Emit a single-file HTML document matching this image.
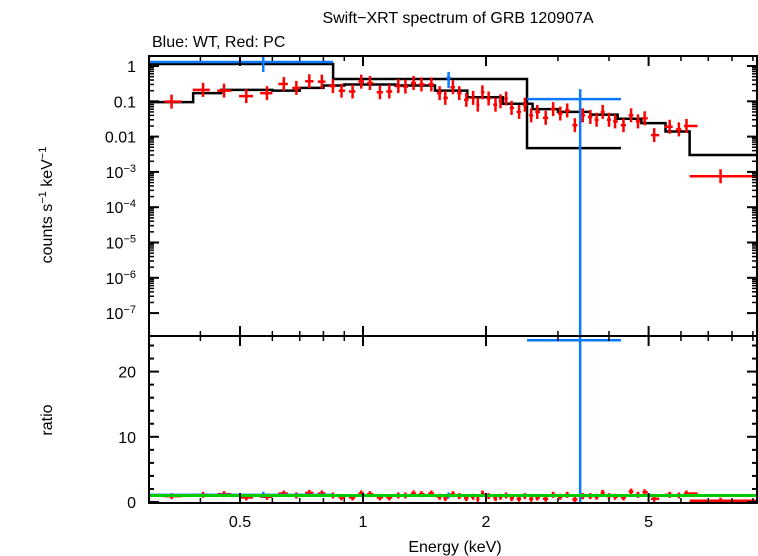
<!DOCTYPE html>
<html><head><meta charset="utf-8"><style>
body{margin:0;background:#fff;}
svg{display:block;font-family:"Liberation Sans",sans-serif;}
</style></head><body>
<svg id="c" width="758" height="556" viewBox="0 0 758 556">
<text x="458" y="23" font-size="16" text-anchor="middle">Swift−XRT spectrum of GRB 120907A</text>
<text x="152" y="47" font-size="16">Blue: WT, Red: PC</text>
<text transform="translate(52,205) rotate(-90)" font-size="16" text-anchor="middle">counts s<tspan font-size="11" dy="-6">−1</tspan><tspan dy="6"> keV</tspan><tspan font-size="11" dy="-6">−1</tspan></text>
<text transform="translate(52,420) rotate(-90)" font-size="16" text-anchor="middle">ratio</text>
<text x="455" y="552" font-size="16" text-anchor="middle">Energy (keV)</text>
<g id="g"></g>
</svg>
<script>
// ---- data ----
const redE = [0.340,0.406,0.457,0.518,0.582,0.64,0.687,0.739,0.793,0.844,0.886,0.943,0.99,1.04,1.10,1.16,1.22,1.27,1.33,1.39,1.47,1.54,1.59,1.66,1.72,1.79,1.86,1.91,1.96,2.03,2.11,2.17,2.24,2.31,2.41,2.49,2.58,2.67,2.80,2.92,3.04,3.16,3.30,3.45,3.60,3.73,3.86,4.00,4.14,4.34,4.53,4.71,4.89,5.16,5.63,5.93,6.19,7.5];
const redV = [0.098,0.21,0.2,0.14,0.17,0.31,0.24,0.37,0.36,0.27,0.2,0.19,0.36,0.33,0.18,0.19,0.27,0.26,0.33,0.3,0.3,0.17,0.125,0.25,0.17,0.11,0.125,0.08,0.18,0.12,0.08,0.1,0.12,0.065,0.05,0.08,0.04,0.05,0.034,0.06,0.045,0.055,0.021,0.04,0.036,0.03,0.05,0.03,0.027,0.021,0.04,0.027,0.033,0.011,0.019,0.016,0.02,0.00075];
const redR = [0.9,1.1,1.2,0.7,0.8,1.3,1.0,1.4,1.3,1.0,0.7,0.7,1.3,1.2,0.7,0.7,1.0,1.0,1.3,1.2,1.3,0.8,0.6,1.2,0.9,0.6,0.8,0.5,1.3,0.9,0.6,0.8,1.0,0.6,0.5,0.9,0.5,0.7,0.5,1.1,0.8,1.1,0.4,0.9,0.9,0.8,1.4,0.9,0.8,0.7,1.6,1.1,1.5,0.5,1.1,1.0,1.3,0.2];
const blueE = [0.57,1.62,3.4];
const blueLo = [0.30,1.60,2.52];
const blueHi = [0.845,1.64,4.28];
const blueV = [1.3,0.46,0.115];
const blueR = [1.1,1.0,24.8];
const redModelEdges = [0.3,0.384,0.45,0.6,0.7,0.8,0.9,1.2,1.5,1.8,2.2,2.6,3.0,3.6,4.2,4.8,5.5,6.3,9.2];
const redModelV = [0.095,0.17,0.21,0.2,0.24,0.28,0.3,0.28,0.2,0.13,0.085,0.06,0.05,0.042,0.032,0.024,0.014,0.003];
const blueModelEdges = [0.3,0.845,2.52,4.28];
const blueModelV = [1.14,0.43,0.0047];
const topTicks = ["1","0.1","0.01","10^-3","10^-4","10^-5","10^-6","10^-7"];
const ratioTicks = [0,10,20];
const xTicks = [0.5,1,2,5];
// ---- axes ----
const L=149,R=757,T=56,M=336,B=503;
const X=e=>363+408.6*Math.log10(e);
const Y=v=>66-35.3*Math.log10(v);
const YR=r=>502-6.52*r;
const g=document.getElementById('g');
const NS='http://www.w3.org/2000/svg';
function mk(t,a,p){const e=document.createElementNS(NS,t);for(const k in a)e.setAttribute(k,a[k]);(p||g).appendChild(e);return e;}
function line(x1,y1,x2,y2,c,w,p){return mk('line',{x1,y1,x2,y2,stroke:c,'stroke-width':w},p);}
const cl=x=>Math.max(L,Math.min(R,x));
function steps(edges,vals,yf,c,name){let d='';for(let i=0;i<vals.length;i++){const y=yf(vals[i]);d+=(i?'L':'M')+cl(X(edges[i]))+' '+y+'L'+cl(X(edges[i+1]))+' '+y;}
const p=mk('path',{d,fill:'none',stroke:c,'stroke-width':2.5});

}
steps(blueModelEdges,blueModelV,Y,'#000','blue-model-line');
steps(redModelEdges,redModelV,Y,'#000','red-model-line');
function halfW(i,side){const n=redE.length;if(i===n-1)return side<0?6.3:9.2;
 const e=redE[i];const o=side<0?(i?redE[i-1]:0.3):redE[i+1];
 return Math.pow(10,Math.log10(e)+0.5*(Math.log10(Math.sqrt(o*e))-Math.log10(e))*1.3);}
for(let i=0;i<redE.length;i++){
 const x=X(redE[i]),x1=cl(X(halfW(i,-1))),x2=cl(X(halfW(i,1)));
 const y=Y(redV[i]),yr=YR(redR[i]);
 const gg=mk('g',{});
 
 
 line(x1,y,x2,y,'#f00',2.5,gg);
 line(x,y-7,x,y+7,'#f00',2.5,gg);
 line(x1,yr,x2,yr,'#f00',2.5,gg);
 line(x,yr-3,x,yr+3,'#f00',2.5,gg);
}
for(let i=0;i<blueE.length;i++){
 const x=X(blueE[i]),x1=cl(X(blueLo[i])),x2=cl(X(blueHi[i]));
 const y=Y(blueV[i]),yr=YR(blueR[i]);
 const gg=mk('g',{});
 
 
 line(x1,Math.max(T+4,y),x2,Math.max(T+4,y),'#0a78ff',2.5,gg);
 const big=i===2;
 line(x,y-(big?10:6),x,big?M:y+10,'#0a78ff',2.5,gg);
 line(x1,yr,x2,yr,'#0a78ff',2.5,gg);
 line(x,big?M:yr-3,x,big?B:yr+3,'#0a78ff',2.5,gg);
}
const gl=line(L,YR(1),R,YR(1),'#0c0',3);


mk('rect',{x:L,y:T,width:R-L,height:M-T,fill:'none',stroke:'#000','stroke-width':2});
mk('rect',{x:L,y:M,width:R-L,height:B-M,fill:'none',stroke:'#000','stroke-width':2});
for(let d=0;d<8;d++){const y=66+35.3*d;
 line(L,y,L+10,y,'#000',2);line(R-10,y,R,y,'#000',2);
 for(let m=2;m<10;m++){const ym=66+35.3*(d-Math.log10(m));if(ym>T&&ym<M){line(L,ym,L+5,ym,'#000',1.5);line(R-5,ym,R,ym,'#000',1.5);}}
 const lab=topTicks[d];const t=mk('text',{x:136,y:y+6,'font-size':16,'text-anchor':'end'});
 if(lab.indexOf('^')>0){const [b,e]=lab.split('^');t.textContent=b;const s=mk('tspan',{'font-size':11,dy:-6},t);s.textContent=e.replace('-','−');}
 else t.textContent=lab;
 
 
}
for(let m=2;m<10;m++){const ym=66-35.3*Math.log10(m);if(ym>T){line(L,ym,L+5,ym,'#000',1.5);line(R-5,ym,R,ym,'#000',1.5);}}
for(let r=0;r<=24;r+=2){const y=YR(r);const maj=r%10===0;line(L,y,L+(maj?10:5),y,'#000',2);line(R-(maj?10:5),y,R,y,'#000',2);}
ratioTicks.forEach(r=>{const t=mk('text',{x:136,y:YR(r)+6,'font-size':16,'text-anchor':'end'});t.textContent=r;
 
 });
const minor=[0.3,0.4,0.6,0.7,0.8,0.9,3,4,6,7,8,9];
[[T,1],[M,-1],[M,1],[B,-1]].forEach(([y,s])=>{
 xTicks.forEach(e=>line(X(e),y,X(e),y+s*10,'#000',2));
 minor.forEach(e=>{if(X(e)>L&&X(e)<R)line(X(e),y,X(e),y+s*5,'#000',1.5);});
});
xTicks.forEach(e=>{const t=mk('text',{x:X(e),y:527,'font-size':16,'text-anchor':'middle'});t.textContent=e;
 
 });
</script>
</body></html>
